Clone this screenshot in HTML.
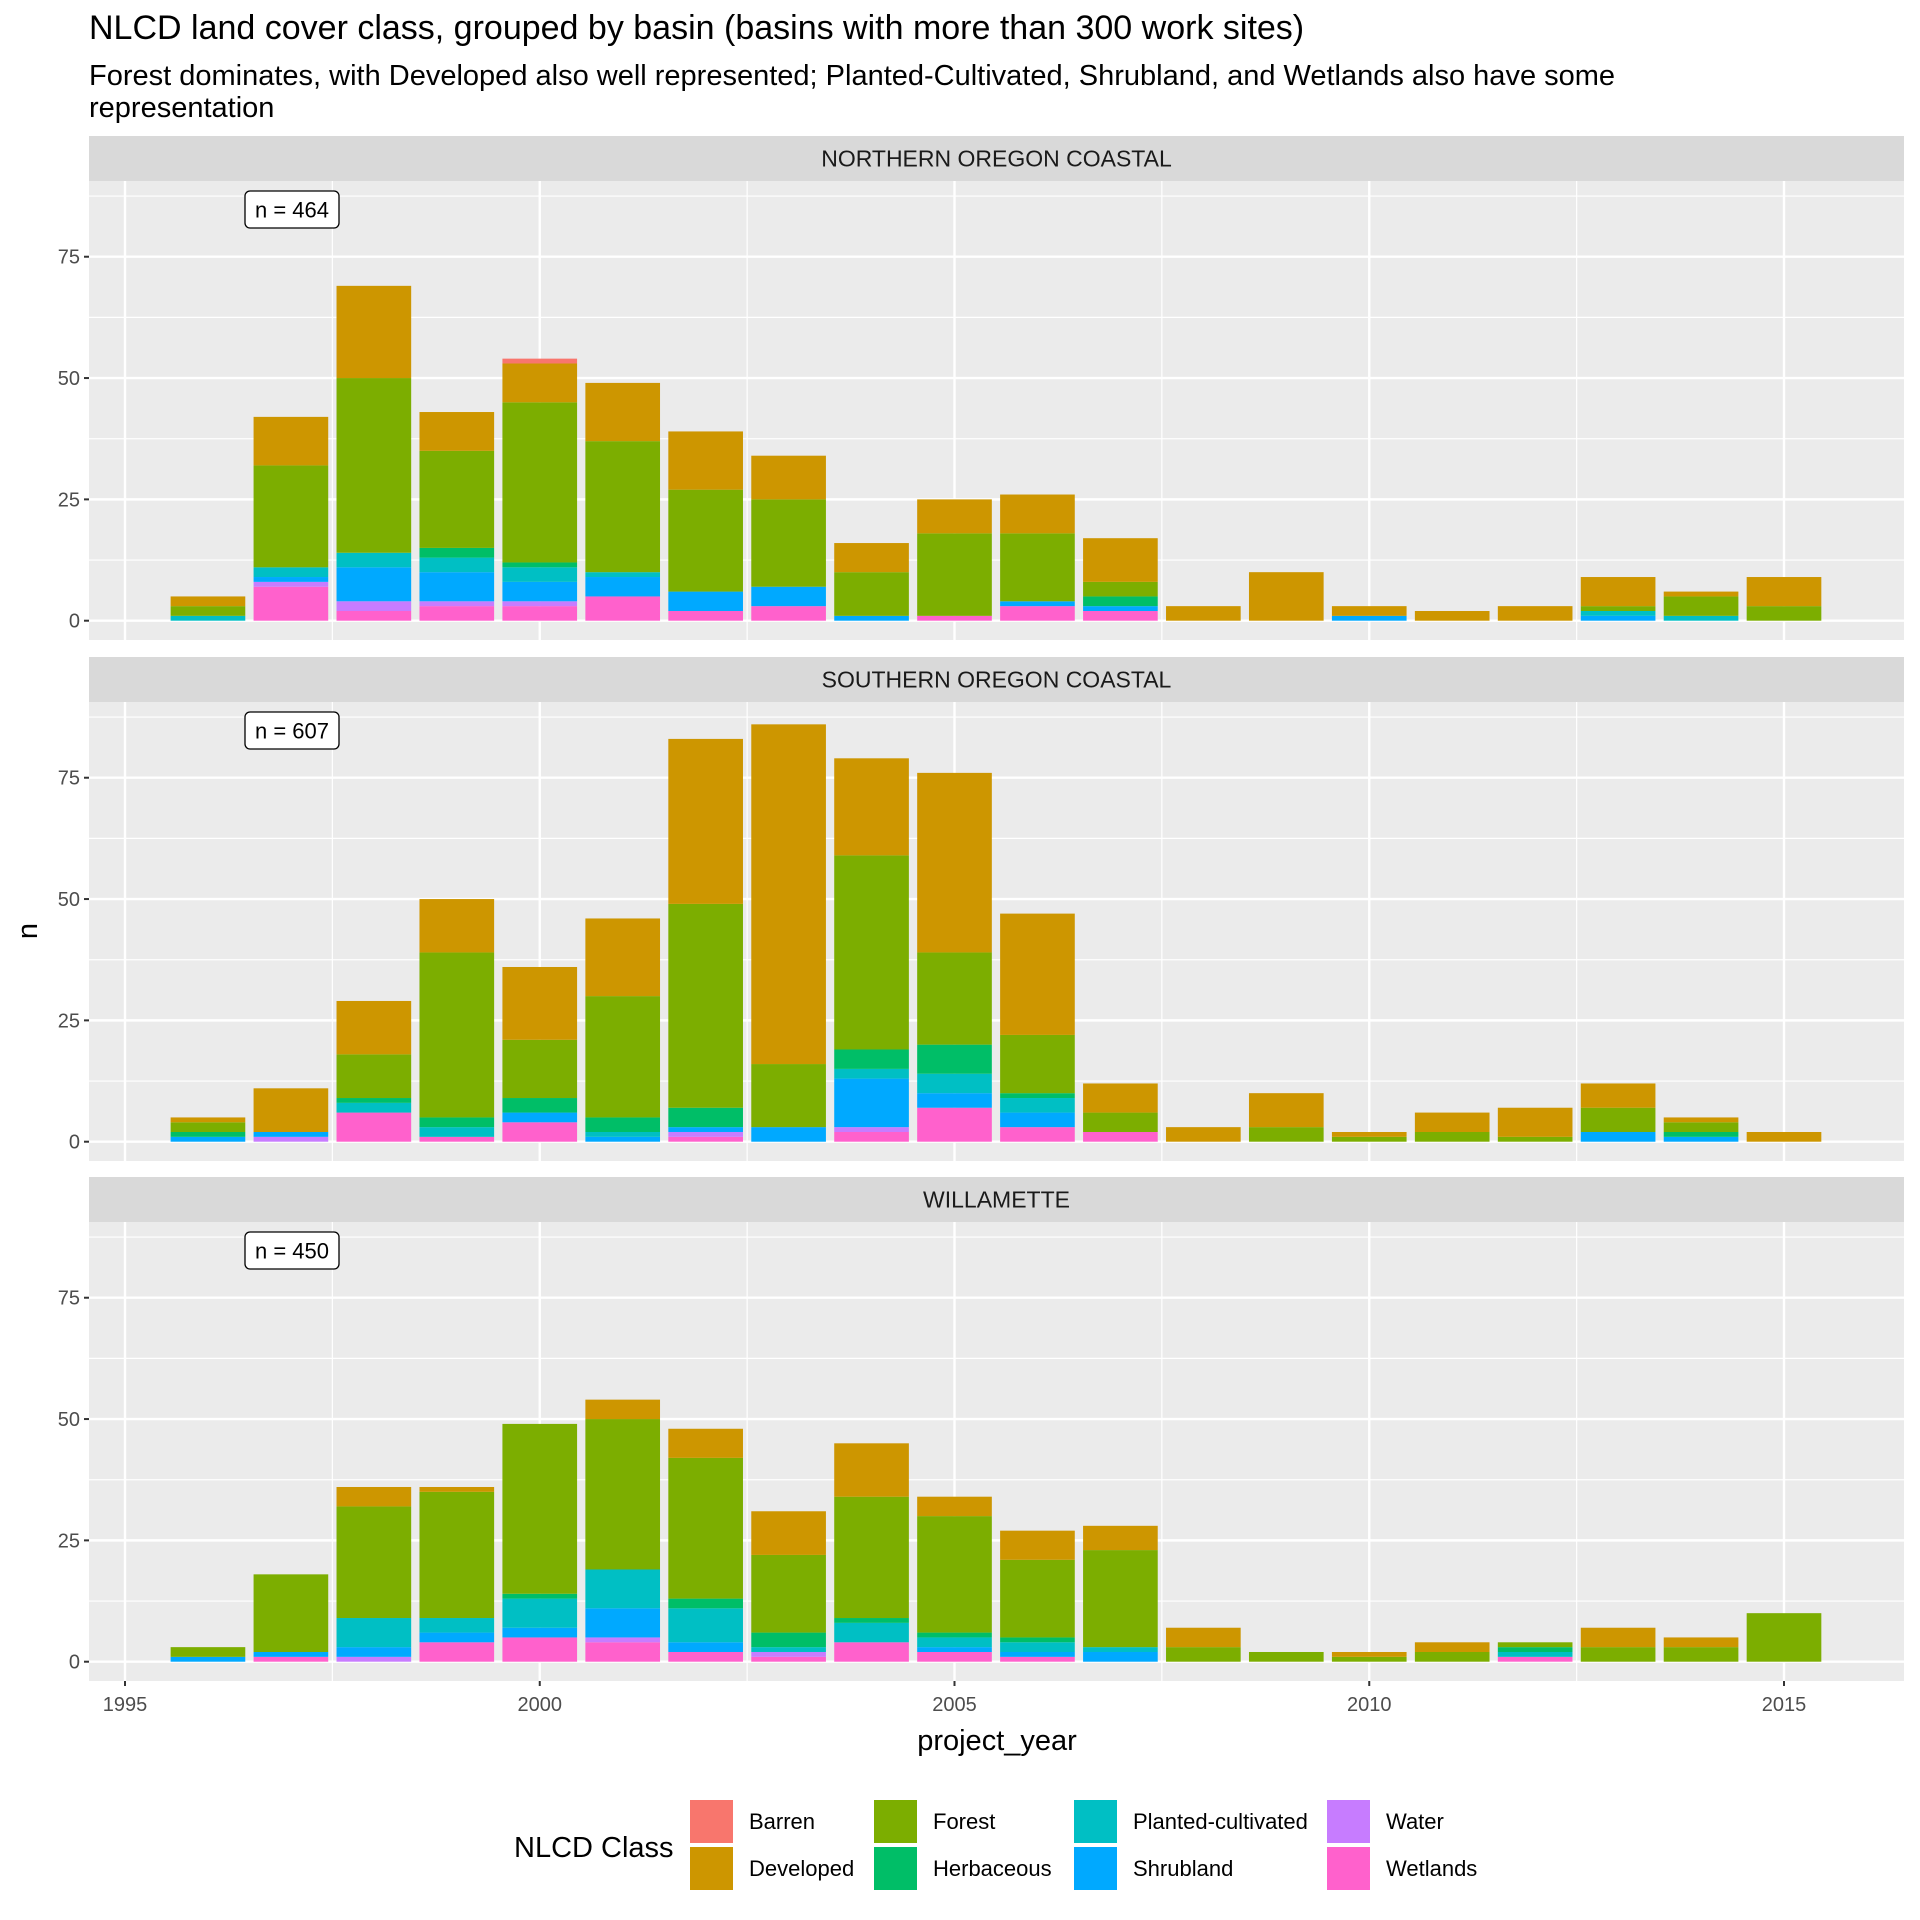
<!DOCTYPE html>
<html><head><meta charset="utf-8">
<style>
html,body{margin:0;padding:0;background:#fff;}
svg{display:block;font-family:"Liberation Sans",Arial,sans-serif;}
</style></head>
<body>
<svg id="chart" width="1920" height="1920" viewBox="0 0 1920 1920" xmlns="http://www.w3.org/2000/svg">
<rect width="1920" height="1920" fill="#fff"/>
<text x="89" y="39" font-size="34" fill="#000">NLCD land cover class, grouped by basin (basins with more than 300 work sites)</text>
<text x="89" y="85" font-size="29" fill="#000">Forest dominates, with Developed also well represented; Planted-Cultivated, Shrubland, and Wetlands also have some</text>
<text x="89" y="117" font-size="29" fill="#000">representation</text>
<g id="panels"></g>
<text x="997" y="1750" font-size="29" text-anchor="middle" fill="#000">project_year</text>
<text transform="translate(37,931) rotate(-90)" font-size="29" text-anchor="middle" fill="#000">n</text>
<g id="legend">
<text x="514" y="1857" font-size="29" fill="#000">NLCD Class</text>
</g>
</svg>
<script>
const years = [1996,1997,1998,1999,2000,2001,2002,2003,2004,2005,2006,2007,2008,2009,2010,2011,2012,2013,2014,2015];
const classes = ["Wetlands","Water","Shrubland","Planted-cultivated","Herbaceous","Forest","Developed","Barren"];
const colors = {"Barren":"#F8766D","Developed":"#CD9600","Forest":"#7CAE00","Herbaceous":"#00BE67","Planted-cultivated":"#00BFC4","Shrubland":"#00A9FF","Water":"#C77CFF","Wetlands":"#FF61CC"};
const basinNames = ["NORTHERN OREGON COASTAL","SOUTHERN OREGON COASTAL","WILLAMETTE"];
const basinTotals = [464,607,450];
const yTicks = [0,25,50,75];
const xTicks = [1995,2000,2005,2010,2015];

// Northern Oregon Coastal
const nocWetlands = [0,7,2,3,3,5,2,3,0,1,3,2,0,0,0,0,0,0,0,0];
const nocWater    = [0,1,2,1,1,0,0,0,0,0,0,0,0,0,0,0,0,0,0,0];
const nocShrub    = [0,1,7,6,4,4,4,4,1,0,1,1,0,0,1,0,0,1,0,0];
const nocPlanted  = [1,2,3,3,3,1,0,0,0,0,0,0,0,0,0,0,0,1,1,0];
const nocHerb     = [0,0,0,2,1,0,0,0,0,0,0,2,0,0,0,0,0,0,0,0];
const nocForest   = [2,21,36,20,33,27,21,18,9,17,14,3,0,0,0,0,0,1,4,3];
const nocDev      = [2,10,19,8,8,12,12,9,6,7,8,9,3,10,2,2,3,6,1,6];
const nocBarren   = [0,0,0,0,1,0,0,0,0,0,0,0,0,0,0,0,0,0,0,0];
// Southern Oregon Coastal
const socWetlands = [0,0,6,1,4,0,1,0,2,7,3,2,0,0,0,0,0,0,0,0];
const socWater    = [0,1,0,0,0,0,1,0,1,0,0,0,0,0,0,0,0,0,0,0];
const socShrub    = [1,1,0,0,2,1,1,3,10,3,3,0,0,0,0,0,0,2,1,0];
const socPlanted  = [0,0,2,2,0,1,0,0,2,4,3,0,0,0,0,0,0,0,0,0];
const socHerb     = [1,0,1,2,3,3,4,0,4,6,1,0,0,0,0,0,0,0,1,0];
const socForest   = [2,0,9,34,12,25,42,13,40,19,12,4,0,3,1,2,1,5,2,0];
const socDev      = [1,9,11,11,15,16,34,70,20,37,25,6,3,7,1,4,6,5,1,2];
const socBarren   = [0,0,0,0,0,0,0,0,0,0,0,0,0,0,0,0,0,0,0,0];
// Willamette
const wilWetlands = [0,1,0,4,5,4,2,1,4,2,1,0,0,0,0,0,1,0,0,0];
const wilWater    = [0,0,1,0,0,1,0,1,0,0,0,0,0,0,0,0,0,0,0,0];
const wilShrub    = [1,1,2,2,2,6,2,0,0,1,1,2,0,0,0,0,0,0,0,0];
const wilPlanted  = [0,0,6,3,6,8,7,1,4,2,2,1,0,0,0,0,1,0,0,0];
const wilHerb     = [0,0,0,0,1,0,2,3,1,1,1,0,0,0,0,0,1,0,0,0];
const wilForest   = [2,16,23,26,35,31,29,16,25,24,16,20,3,2,1,2,1,3,3,10];
const wilDev      = [0,0,4,1,0,4,6,9,11,4,6,5,4,0,1,2,0,4,2,0];
const wilBarren   = [0,0,0,0,0,0,0,0,0,0,0,0,0,0,0,0,0,0,0,0];

const basinSeries = [
  [nocWetlands,nocWater,nocShrub,nocPlanted,nocHerb,nocForest,nocDev,nocBarren],
  [socWetlands,socWater,socShrub,socPlanted,socHerb,socForest,socDev,socBarren],
  [wilWetlands,wilWater,wilShrub,wilPlanted,wilHerb,wilForest,wilDev,wilBarren]
];

const NS = "http://www.w3.org/2000/svg";
function mk(tag, attrs, parent){
  const e = document.createElementNS(NS, tag);
  for (const k in attrs) e.setAttribute(k, attrs[k]);
  parent.appendChild(e);
  return e;
}
const PX0 = 89, PX1 = 1904;
const unit = 4.853;
const yearPx = 82.95;
function xScale(yr){ return 125 + (yr - 1995) * yearPx; }
const panelTops = [181, 702, 1222];
const panelH = 459;
const stripH = 45;
const root = document.getElementById("panels");

basinNames.forEach((name, bi) => {
  const top = panelTops[bi];
  const bottom = top + panelH;
  const zeroY = bottom - 19.3;
  const yScale = v => zeroY - v * unit;
  const g = mk("g", {}, root);
  
  
  const strip = mk("rect", {x:PX0, y:top-stripH, width:PX1-PX0, height:stripH, fill:"#D9D9D9"}, g);
  
  
  const st = mk("text", {x:(PX0+PX1)/2, y:top-stripH/2+8, "font-size":23, "text-anchor":"middle", fill:"#1a1a1a"}, g);
  st.textContent = name;
  
  
  const bg = mk("rect", {x:PX0, y:top, width:PX1-PX0, height:panelH, fill:"#EBEBEB"}, g);
  
  
  for (let i = 0; i < yTicks.length; i++) {
    const mv = yTicks[i] + 12.5;
    if (yScale(mv) > top) {
      const l = mk("line", {x1:PX0, x2:PX1, y1:yScale(mv), y2:yScale(mv), stroke:"#fff", "stroke-width":1.2}, g);
      
      
    }
  }
  for (let i = 0; i < xTicks.length; i++) {
    const mx = xScale(xTicks[i] + 2.5);
    if (mx < PX1) {
      const l = mk("line", {x1:mx, x2:mx, y1:top, y2:bottom, stroke:"#fff", "stroke-width":1.2}, g);
      
      
    }
  }
  yTicks.forEach(t => {
    const l = mk("line", {x1:PX0, x2:PX1, y1:yScale(t), y2:yScale(t), stroke:"#fff", "stroke-width":2.4}, g);
    
    
    const tk = mk("line", {x1:PX0-5, x2:PX0, y1:yScale(t), y2:yScale(t), stroke:"#333", "stroke-width":2}, g);
    
    
    const tl = mk("text", {x:PX0-9, y:yScale(t)+7, "font-size":20, "text-anchor":"end", fill:"#4D4D4D"}, g);
    tl.textContent = t;
    
    
  });
  xTicks.forEach(t => {
    const l = mk("line", {x1:xScale(t), x2:xScale(t), y1:top, y2:bottom, stroke:"#fff", "stroke-width":2.4}, g);
    
    
  });
  const series = basinSeries[bi];
  years.forEach((yr, yi) => {
    let cum = 0;
    classes.forEach((c, ci) => {
      const v = series[ci][yi];
      if (!v) return;
      const r = mk("rect", {x:xScale(yr) - 0.45*yearPx, y:yScale(cum+v), width:0.9*yearPx, height:v*unit, fill:colors[c]}, g);
      
      
      cum += v;
    });
  });
  const lb = mk("rect", {x:245, y:top+10, width:94, height:37, rx:5, fill:"#fff", stroke:"#000", "stroke-width":1.3}, g);
  
  
  const lt = mk("text", {x:292, y:top+36.5, "font-size":22, "text-anchor":"middle", fill:"#000"}, g);
  lt.textContent = "n = " + basinTotals[bi];
  
  
  if (bi === 2) {
    xTicks.forEach(t => {
      const tk = mk("line", {x1:xScale(t), x2:xScale(t), y1:bottom, y2:bottom+5, stroke:"#333", "stroke-width":2}, g);
      
      
      const tl = mk("text", {x:xScale(t), y:bottom+30, "font-size":20, "text-anchor":"middle", fill:"#4D4D4D"}, g);
      tl.textContent = t;
      
      
    });
  }
});

const legendOrder = ["Barren","Developed","Forest","Herbaceous","Planted-cultivated","Shrubland","Water","Wetlands"];
const colX = [690, 874, 1074, 1327];
const rowY = [1821, 1868];
const lg = document.getElementById("legend");
legendOrder.forEach((c, i) => {
  const col = Math.floor(i/2), row = i%2;
  const r = mk("rect", {x:colX[col], y:rowY[row]-21, width:43, height:43, fill:colors[c]}, lg);
  
  
  const t = mk("text", {x:colX[col]+59, y:rowY[row]+8, "font-size":22, fill:"#000"}, lg);
  t.textContent = c;
  
  
});
</script>
</body></html>
